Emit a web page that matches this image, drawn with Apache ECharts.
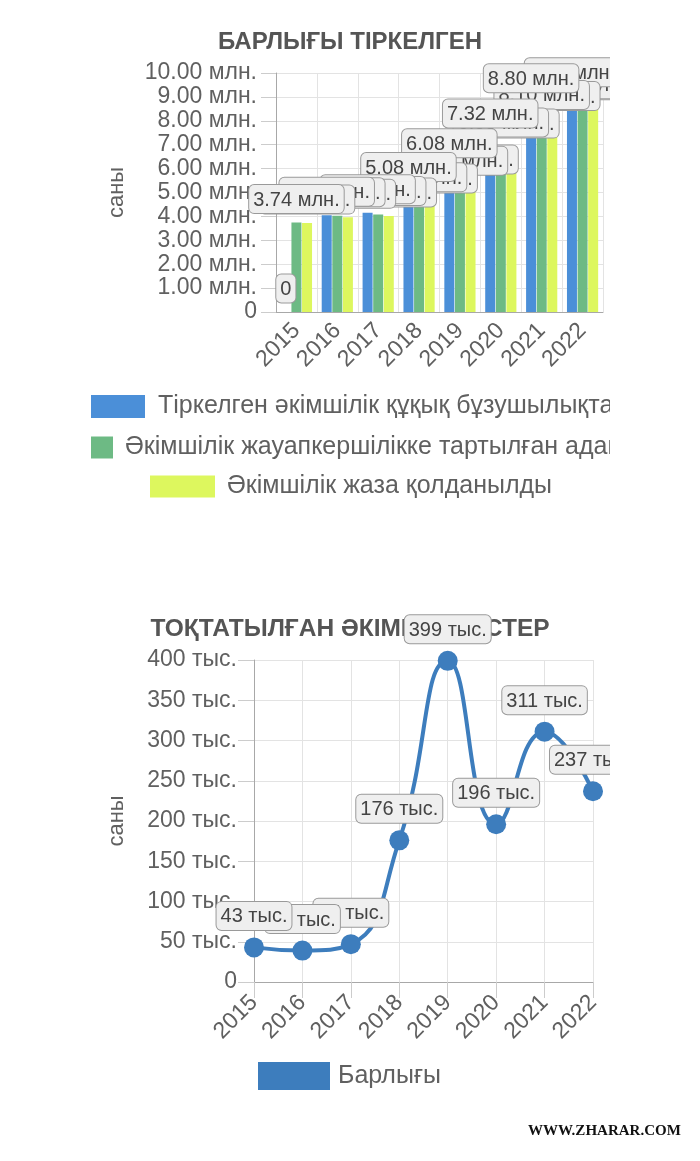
<!DOCTYPE html>
<html>
<head>
<meta charset="utf-8">
<script src="https://cdn.jsdelivr.net/npm/echarts@6/dist/echarts.min.js"></script>
<style>
html,body{margin:0;padding:0;background:#fff;}
#c{width:700px;height:1161px;}
</style>
</head>
<body>
<div id="c"></div>
<script>
// ---- data ----
const years = ['2015','2016','2017','2018','2019','2020','2021','2022'];
// values in millions
const registered = [0, 4.05, 4.15, 5.08, 6.08, 7.32, 8.80, 9.05];
const liable     = [3.74, 4.03, 4.08, 4.65, 5.35, 6.95, 8.10, 8.55];
const penalized  = [3.72, 3.96, 4.02, 4.60, 5.40, 6.90, 8.05, 8.50];
// values in thousands
const stopped = [43, 39, 47, 176, 399, 196, 311, 237];

const seriesNames = [
  'Тіркелген әкімшілік құқық бұзушылықтар',
  'Әкімшілік жауапкершілікке тартылған адамдар',
  'Әкімшілік жаза қолданылды'
];
const lineName = 'Барлығы';
const titleTop = 'БАРЛЫҒЫ ТІРКЕЛГЕН';
const titleBottom = 'ТОҚТАТЫЛҒАН ӘКІМШІЛІК ІСТЕР';
const yName = 'саны';
const mlnSuffix = ' млн.';
const thsSuffix = ' тыс.';

const FONT = '"Liberation Sans", Arial, sans-serif';
const TXT = '#606060';
const GRIDC = '#e3e3e3';
const AXC = '#a8a8a8';
const BAR_W = 10, BAR_STEP = 10.6;

const fmtMln = v => v === 0 ? '0' : v.toFixed(2) + mlnSuffix;
const fmtThs = v => v === 0 ? '0' : Math.round(v) + thsSuffix;

const boxLabel = (fmt, dist) => ({
  show: true, position: 'top', distance: dist,
  formatter: p => fmt(p.value[1]),
  fontFamily: FONT, fontSize: 20, color: '#444',
  backgroundColor: '#efefef', borderColor: '#9a9a9a', borderWidth: 1,
  borderRadius: 5, padding: [3, 4, 1, 4], lineHeight: 24
});

// label points: painted right-to-left so that left labels lie on top (as in the original)
const barData = [registered, liable, penalized];
const barLabelPoints = [];
for (let c = years.length - 1; c >= 0; c--) {
  for (let s = barData.length - 1; s >= 0; s--) {
    barLabelPoints.push({ value: [c, barData[s][c]], label: { offset: [(s - 1) * BAR_STEP, 0] } });
  }
}
const lineLabelPoints = [];
for (let c = years.length - 1; c >= 0; c--) lineLabelPoints.push({ value: [c, stopped[c]] });

const chart = echarts.init(document.getElementById('c'));
const legendText = pad => ({ fontFamily: FONT, fontSize: 25, color: TXT, lineHeight: 25, padding: [0, 0, 0, pad] });
const option = {
  animation: false,
  backgroundColor: '#fff',
  textStyle: { fontFamily: FONT },
  title: [
    { text: titleTop, left: 'center', top: 30, padding: 0, z: 0,
      textStyle: { fontFamily: FONT, fontSize: 24, fontWeight: 'bold', color: '#555' } },
    { text: titleBottom, left: 'center', top: 617, padding: 0, z: 0,
      textStyle: { fontFamily: FONT, fontSize: 24.5, fontWeight: 'bold', color: '#555' } }
  ],
  legend: [
    { data: [seriesNames[0]], left: 91, top: 394, padding: 0, icon: 'rect',
      itemWidth: 54, itemHeight: 23, selectedMode: false, textStyle: legendText(8) },
    { data: [seriesNames[1]], left: 91, top: 435, padding: 0, icon: 'rect',
      itemWidth: 22, itemHeight: 22, selectedMode: false, textStyle: legendText(7) },
    { data: [seriesNames[2]], left: 150, top: 474, padding: 0, icon: 'rect',
      itemWidth: 65, itemHeight: 22, selectedMode: false, textStyle: legendText(7) },
    { data: [lineName], left: 258, top: 1062, padding: 0, icon: 'rect',
      itemWidth: 72, itemHeight: 28, selectedMode: false, textStyle: legendText(3) }
  ],
  grid: [
    { left: 276, top: 73, width: 327, height: 239 },
    { left: 254, top: 660, width: 339, height: 322 }
  ],
  xAxis: [
    { type: 'category', gridIndex: 0, data: years, boundaryGap: true,
      axisLine: { lineStyle: { color: AXC } },
      axisTick: { length: 15, lineStyle: { color: '#ccc' } },
      splitLine: { show: true, lineStyle: { color: GRIDC } },
      axisLabel: { rotate: 45, interval: 0, margin: 15, fontSize: 23, color: TXT, fontFamily: FONT } },
    { type: 'category', gridIndex: 1, data: years, boundaryGap: false,
      axisLine: { lineStyle: { color: AXC } },
      axisTick: { length: 16, lineStyle: { color: '#ccc' } },
      splitLine: { show: true, lineStyle: { color: GRIDC } },
      axisLabel: { rotate: 45, interval: 0, margin: 17, fontSize: 23, color: TXT, fontFamily: FONT } }
  ],
  yAxis: [
    { type: 'value', gridIndex: 0, min: 0, max: 10, interval: 1,
      name: yName, nameLocation: 'middle', nameGap: 148,
      nameTextStyle: { fontSize: 22, color: TXT, fontFamily: FONT },
      axisLine: { show: true, lineStyle: { color: AXC } },
      axisTick: { show: true, length: 15, lineStyle: { color: '#ccc' } },
      splitLine: { lineStyle: { color: GRIDC } },
      axisLabel: { margin: 19, fontSize: 23, color: TXT, fontFamily: FONT, formatter: fmtMln } },
    { type: 'value', gridIndex: 1, min: 0, max: 400, interval: 50,
      name: yName, nameLocation: 'middle', nameGap: 126,
      nameTextStyle: { fontSize: 22, color: TXT, fontFamily: FONT },
      axisLine: { show: true, lineStyle: { color: AXC } },
      axisTick: { show: true, length: 16, lineStyle: { color: '#ccc' } },
      splitLine: { lineStyle: { color: GRIDC } },
      axisLabel: { margin: 17, fontSize: 23, color: TXT, fontFamily: FONT, formatter: fmtThs } }
  ],
  series: [
    { name: seriesNames[0], type: 'bar', xAxisIndex: 0, yAxisIndex: 0, data: registered,
      barWidth: BAR_W, barGap: '6%', itemStyle: { color: '#4b8fd8' } },
    { name: seriesNames[1], type: 'bar', xAxisIndex: 0, yAxisIndex: 0, data: liable,
      barWidth: BAR_W, barGap: '6%', itemStyle: { color: '#6dba84' } },
    { name: seriesNames[2], type: 'bar', xAxisIndex: 0, yAxisIndex: 0, data: penalized,
      barWidth: BAR_W, barGap: '6%', itemStyle: { color: '#ddf75e' } },
    { name: 'barLabels', type: 'scatter', xAxisIndex: 0, yAxisIndex: 0, data: barLabelPoints,
      symbolSize: 1, silent: true, z: 5, itemStyle: { color: 'rgba(0,0,0,0)', opacity: 1 },
      label: boxLabel(fmtMln, 9) },
    { name: lineName, type: 'line', xAxisIndex: 1, yAxisIndex: 1, data: stopped,
      smooth: 0.5, symbol: 'circle', symbolSize: 20,
      lineStyle: { width: 4, color: '#3d7dbd' }, itemStyle: { color: '#3d7dbd' } },
    { name: 'lineLabels', type: 'scatter', xAxisIndex: 1, yAxisIndex: 1, data: lineLabelPoints,
      symbolSize: 1, silent: true, z: 5, itemStyle: { color: 'rgba(0,0,0,0)', opacity: 1 },
      label: boxLabel(fmtThs, 17) }
  ],
  graphic: [
    { type: 'rect', z: 100, shape: { x: 610, y: 0, width: 90, height: 1105 }, style: { fill: '#fff' } },
    { type: 'text', z: 101, left: 528, top: 1124,
      style: { text: 'WWW.ZHARAR.COM', font: 'bold 15px "Liberation Serif", serif', fill: '#111' } }
  ]
};
chart.setOption(option);
</script>
</body>
</html>
